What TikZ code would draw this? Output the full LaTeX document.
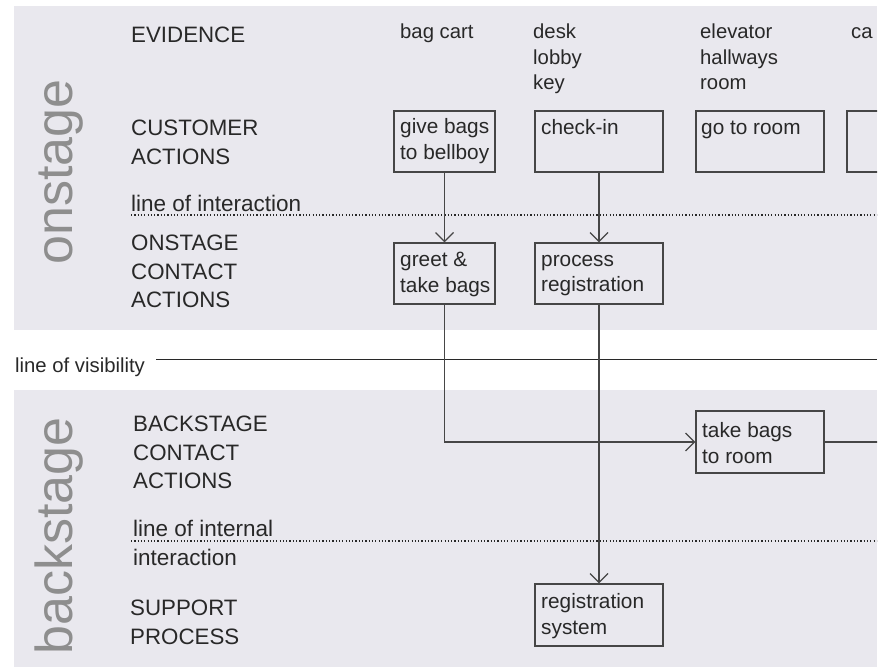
\documentclass[tikz,border=0pt]{standalone}
\usepackage{fontspec}
\setmainfont{Liberation Sans}
\usetikzlibrary{arrows.meta}
\definecolor{panel}{RGB}{233,232,238}
\definecolor{ink}{RGB}{40,40,40}
\definecolor{rule}{RGB}{70,70,70}
\definecolor{stagegray}{RGB}{142,142,142}
\begin{document}
\begin{tikzpicture}[x=1pt,y=-1pt,
  % multi-line texts are placed by the baseline of their last line
  rowlabel/.style={anchor=base west, align=left, inner sep=0pt, text=ink,
    font=\fontsize{22.3}{28.5}\selectfont},
  linelabel/.style={anchor=base west, align=left, inner sep=0pt, text=ink,
    font=\fontsize{22.5}{29}\selectfont},
  evid/.style={anchor=base west, align=left, inner sep=0pt, text=ink,
    font=\fontsize{20.3}{25.5}\selectfont},
  boxtext/.style={anchor=base west, align=left, inner sep=0pt, text=ink,
    font=\fontsize{20.8}{25.5}\selectfont},
  stepbox/.style={draw=rule, line width=1.3pt, minimum height=61pt, inner sep=0pt},
  narrowbox/.style={stepbox, minimum width=101pt},
  widebox/.style={stepbox, minimum width=128pt},
  stage/.style={rotate=90, anchor=base west, inner sep=0pt, text=stagegray,
    font=\fontsize{52}{52}\selectfont},
  flow/.style={draw=rule, line width=1.2pt,
    -{Straight Barb[length=9pt,width=18pt,line width=1.2pt]}},
  dotline/.style={draw=ink, line width=1.3pt, dash pattern=on 1.2pt off 2.1pt},
]
\useasboundingbox (0,0) rectangle (880,668);

% lane backgrounds
\fill[panel] (14,6) rectangle (877,330);
\fill[panel] (14,390) rectangle (877,667);

% stage titles
\node[stage] (onstage) at (72,265) {onstage};
\node[stage] (backstage) at (72,655) {backstage};

% row labels
\node[rowlabel] (evidence) at (131,43) {EVIDENCE};
\node[rowlabel] (custact) at (131,164.3) {CUSTOMER\\ACTIONS};
\node[linelabel] (interlbl) at (131,212) {line of interaction};
\node[rowlabel] (onact) at (131,307.5) {ONSTAGE\\CONTACT\\ACTIONS};
\node[evid] (vislbl) at (15,372.5) {line of visibility};
\node[rowlabel] (backact) at (133,488.5) {BACKSTAGE\\CONTACT\\ACTIONS};
\node[linelabel] (internlbl) at (133,565.7) {line of internal\\interaction};
\node[rowlabel] (support) at (130,644.3) {SUPPORT\\PROCESS};

% line of visibility
\coordinate (visL) at (156,359.5);
\coordinate (visR) at (877,359.5);
\draw[ink, line width=1.4pt] (visL) -- (visR);

\begin{scope}
\clip (0,0) rectangle (877,668);

% dotted lines of interaction
\coordinate (interL) at (131,215);
\coordinate (interR) at (877,215);
\draw[dotline] (interL) -- (interR);
\coordinate (internL) at (131,541);
\coordinate (internR) at (877,541);
\draw[dotline] (internL) -- (internR);

% physical evidence
\node[evid] (ev1) at (400,39) {bag cart};
\node[evid] (ev2) at (533,90) {desk\\lobby\\key};
\node[evid] (ev3) at (700,90) {elevator\\hallways\\room};
\node[evid] (ev4) at (851,39) {ca};

% customer actions
\node[narrowbox] (give) at (444.5,141.5) {};
\node[boxtext] (givet) at (400,159.5) {give bags\\to bellboy};
\node[widebox] (checkin) at (599,141.5) {};
\node[boxtext] (checkint) at (541,135) {check-in};
\node[widebox] (goroom) at (760,141.5) {};
\node[boxtext] (goroomt) at (701,135) {go to room};
\node[widebox] (nextstep) at (911,141.5) {};

% onstage contact actions
\node[narrowbox] (greet) at (444.5,273.5) {};
\node[boxtext] (greett) at (400,292) {greet \&\\take bags};
\node[widebox] (process) at (599,273.5) {};
\node[boxtext] (processt) at (541,291.7) {process\\registration};

% backstage contact actions
\node[widebox, minimum height=62pt] (takebags) at (760,442) {};
\node[boxtext] (takebagst) at (702,463.3) {take bags\\to room};

% support process
\node[widebox, minimum height=62pt] (regsys) at (599,615) {};
\node[boxtext] (regsyst) at (541,634) {registration\\system};

% flow connectors
\draw[flow] (give) -- (greet);
\draw[flow] (checkin) -- (process);
\draw[flow] (greet.south) |- (takebags.west);
\draw[flow] (process) -- (regsys);
\coordinate (offright) at (890,442);
\draw[draw=rule, line width=1.2pt] (takebags.east) -- (offright);
\end{scope}
\end{tikzpicture}
\end{document}
